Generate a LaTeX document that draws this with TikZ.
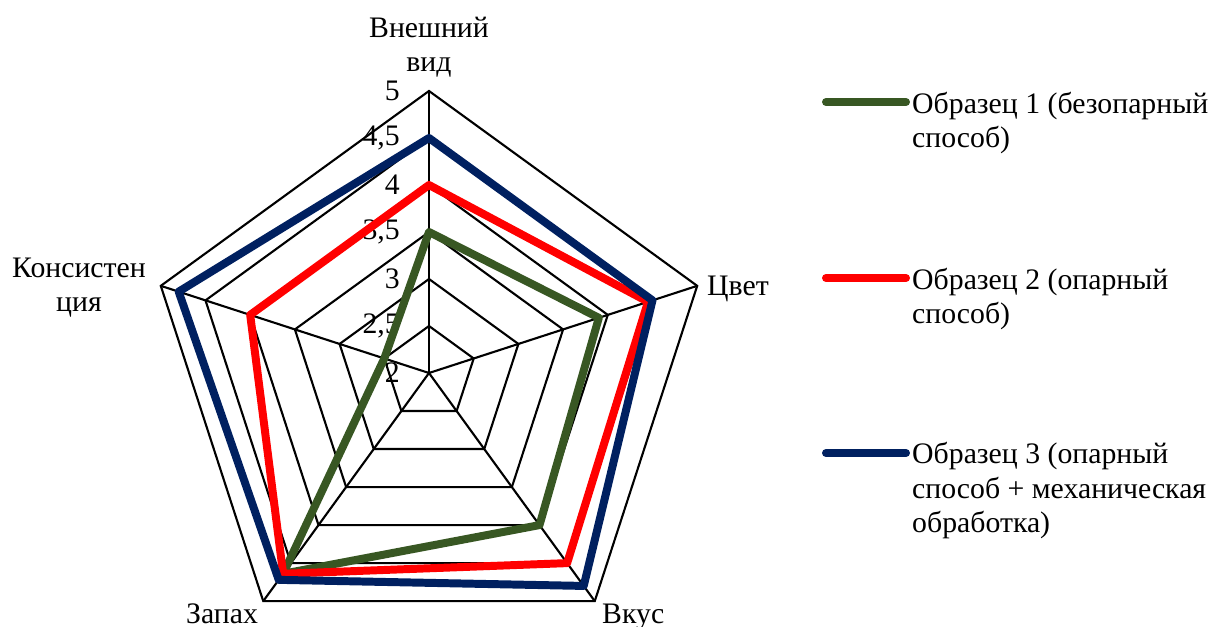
\documentclass[tikz,border=0pt]{standalone}
\usepackage{fontspec}
\setmainfont{Liberation Serif}
\usepackage{tikz}
\usetikzlibrary{positioning}
\pgfdeclarelayer{nodelayer}
\pgfdeclarelayer{edgelayer}
\pgfsetlayers{nodelayer,edgelayer,main}
\definecolor{samplegreen}{RGB}{56,87,35}
\definecolor{samplered}{RGB}{255,0,0}
\definecolor{sampleblue}{RGB}{0,32,96}
\newcommand{\chartfont}{\fontsize{25.4}{29.5}\selectfont}
\tikzstyle{ring}=[draw=black,line width=1.8pt]
\tikzstyle{series}=[line width=6.8pt,line join=round]
\tikzstyle{axislabel}=[inner sep=0pt,font=\chartfont,align=center]
\tikzstyle{tick}=[inner sep=0pt,font=\chartfont,anchor=east]
\tikzstyle{legendline}=[line width=6.8pt,line cap=round]
\tikzstyle{legendtext}=[inner sep=0pt,font=\chartfont,align=left,anchor=base west]

\begin{document}
\begin{tikzpicture}[x=0.03cm,y=0.03cm]
	\useasboundingbox (-429,-254) rectangle (786,373);
	\begin{pgfonlayer}{nodelayer}
		\foreach \v/\t in {0/2,1/{2,5},2/3,3/{3,5},4/4,5/{4,5},6/5}
			\node [style=tick] (tick\v) at (-29,\v*47) {\t};
		\node [style=axislabel, anchor=base] (look) at (0,301) {Внешний\\вид};
		\node [style=axislabel, anchor=base west] (colour) at (278,77) {Цвет};
		\node [style=axislabel, anchor=base west] (taste) at (173,-250) {Вкус};
		\node [style=axislabel, anchor=base west] (smell) at (-243,-250) {Запах};
		\node [style=axislabel, anchor=base] (texture) at (-350,61) {Консистен\\ция};
		\node [style=legendtext] (leg1) at (483,225) {Образец 1 (безопарный\\способ)};
		\node [style=legendtext] (leg2) at (483,49) {Образец 2 (опарный\\способ)};
		\node [style=legendtext] (leg3) at (483,-160) {Образец 3 (опарный\\способ + механическая\\обработка)};
	\end{pgfonlayer}
	\begin{pgfonlayer}{edgelayer}
		% rings and spokes
		\foreach \v in {1,...,6}
			\draw [style=ring] (90:\v*47) -- (18:\v*47) -- (-54:\v*47) -- (-126:\v*47) -- (162:\v*47) -- cycle;
		\foreach \a in {90,18,-54,-126,162}
			\draw [style=ring] (0,0) -- (\a:282);
	\end{pgfonlayer}
	% samples
	\foreach \col/\a/\b/\c/\d/\e in {samplegreen/3.5/3.9/4.0/4.64/2.5, samplered/4.0/4.45/4.5/4.64/4.0, sampleblue/4.5/4.5/4.8/4.72/4.8}
		\draw [style=series, draw=\col] (90:{(\a-2)*94}) -- (18:{(\b-2)*94}) -- (-54:{(\c-2)*94}) -- (-126:{(\d-2)*94}) -- (162:{(\e-2)*94}) -- cycle;
	\coordinate (l1a) at (397,271); \coordinate (l1b) at (477,271);
	\coordinate (l2a) at (397,95); \coordinate (l2b) at (477,95);
	\coordinate (l3a) at (397,-80); \coordinate (l3b) at (477,-80);
	\draw [style=legendline, samplegreen] (l1a) -- (l1b);
	\draw [style=legendline, samplered] (l2a) -- (l2b);
	\draw [style=legendline, sampleblue] (l3a) -- (l3b);
\end{tikzpicture}
\end{document}
